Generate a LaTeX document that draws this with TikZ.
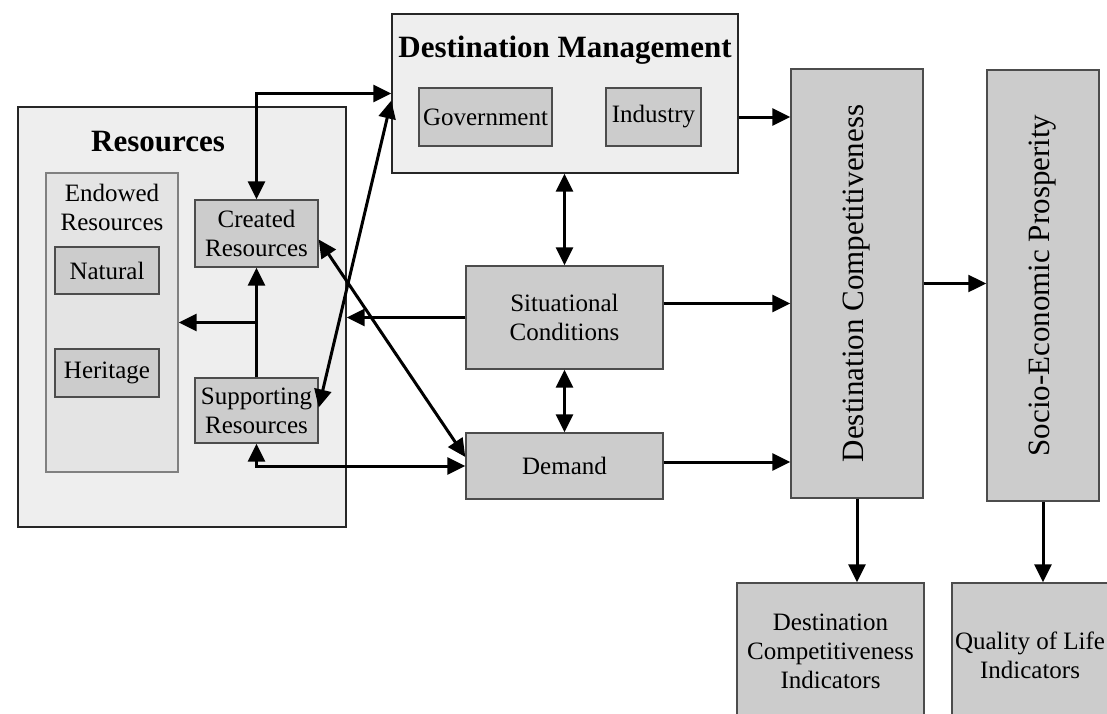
\documentclass[tikz,border=0pt]{standalone}
\usepackage{graphicx}
\usepackage{fontspec}
\setmainfont{Liberation Serif}
\usetikzlibrary{arrows.meta}

\definecolor{panelgray}{HTML}{EEEEEE}
\definecolor{endowgray}{HTML}{E4E4E4}
\definecolor{boxgray}{HTML}{CCCCCC}

\begin{document}
\begin{tikzpicture}[x=1pt,y=-1pt,
  txt/.style={font=\fontsize{25}{29}\selectfont, align=center},
  panel/.style={draw=black!85, line width=1.4pt, fill=panelgray, inner sep=0pt},
  box/.style={draw=black!70, line width=1.4pt, fill=boxgray, inner sep=0pt, txt},
  title/.style={font=\fontsize{31}{36}\selectfont\bfseries},
  tall/.style={font=\fontsize{31}{36}\selectfont},
  link/.style={line width=3pt, -{Triangle[length=18pt,width=17pt]}},
  dlink/.style={line width=3pt, {Triangle[length=18pt,width=17pt]}-{Triangle[length=18pt,width=17pt]}}]
\clip (0,0) rectangle (1107,713);
\fill[white] (0,0) rectangle (1107,713);

% resources
\node[panel, minimum width=328pt, minimum height=420pt] (res) at (182,317) {};
\node[title] (restitle) at (158,142) {Resources};
\node[panel, draw=black!50, fill=endowgray, minimum width=132pt, minimum height=299pt] (endow) at (112,322.5) {};
\node[txt] (endowtxt) at (112,207) {Endowed\\Resources};
\node[box, minimum width=104pt, minimum height=47pt] (natural) at (107,270.5) {Natural};
\node[box, minimum width=104pt, minimum height=48pt] (heritage) at (107,373) {Heritage};
\node[box, minimum width=123pt, minimum height=67pt] (created) at (256.5,233.5) {Created\\Resources};
\node[box, minimum width=123pt, minimum height=65pt] (support) at (256.5,410.5) {Supporting\\Resources};

% destination management
\node[panel, minimum width=346pt, minimum height=159pt] (dm) at (565,93.5) {};
\node[title] (dmtitle) at (565,50) {Destination Management};
\node[box, minimum width=133pt, minimum height=58pt] (gov) at (485.5,117) {Government};
\node[box, minimum width=95pt, minimum height=58pt] (ind) at (653.5,117) {Industry};

\node[box, minimum width=197pt, minimum height=103pt] (sit) at (564.5,317.5) {Situational\\Conditions};
\node[box, minimum width=197pt, minimum height=66pt] (dem) at (564.5,466) {Demand};

% outcomes
\node[box, tall, minimum width=132pt, minimum height=429pt] (dc) at (857,283.5) {\rotatebox{90}{Destination Competitiveness}};
\node[box, tall, minimum width=112pt, minimum height=431pt] (sep) at (1043,285.5) {\rotatebox{90}{Socio-Economic Prosperity}};
\node[box, minimum width=187pt, minimum height=136pt] (dci) at (830.5,651) {Destination\\Competitiveness\\Indicators};
\node[box, minimum width=156pt, minimum height=144pt] (qol) at (1030,655) {Quality of Life\\Indicators};

\coordinate (sitout) at ([yshift=14pt]sit.east);
\coordinate (demout) at ([yshift=4pt]dem.east);

\draw[dlink] (created.north) |- (dm.west);
\draw[dlink] ([yshift=3pt]support.east) -- ([yshift=-7pt]dm.west);
\draw[dlink] ([yshift=-6pt]created.east) -- ([yshift=9pt]dem.west);
\draw[link] (support.north) -- (created.south);
\draw[link] (support.north |- endow.east) -- (endow.east);
\draw[link] (sit.west) -- (sit.west -| res.east);
\draw[dlink] (support.south) |- (dem.west);
\draw[dlink] (sit.north |- dm.south) -- (sit.north);
\draw[dlink] (sit.south) -- (dem.north);
\draw[link] (dm.east |- ind.east) -- (dc.west |- ind.east);
\draw[link] (sitout) -- (sitout -| dc.west);
\draw[link] (demout) -- (demout -| dc.west);
\draw[link, line width=2.2pt] (dc.east) -- (dc.east -| sep.west);
\draw[link] (dc.south) -- (dc.south |- dci.north);
\draw[link] (sep.south) -- (sep.south |- qol.north);
\end{tikzpicture}
\end{document}
